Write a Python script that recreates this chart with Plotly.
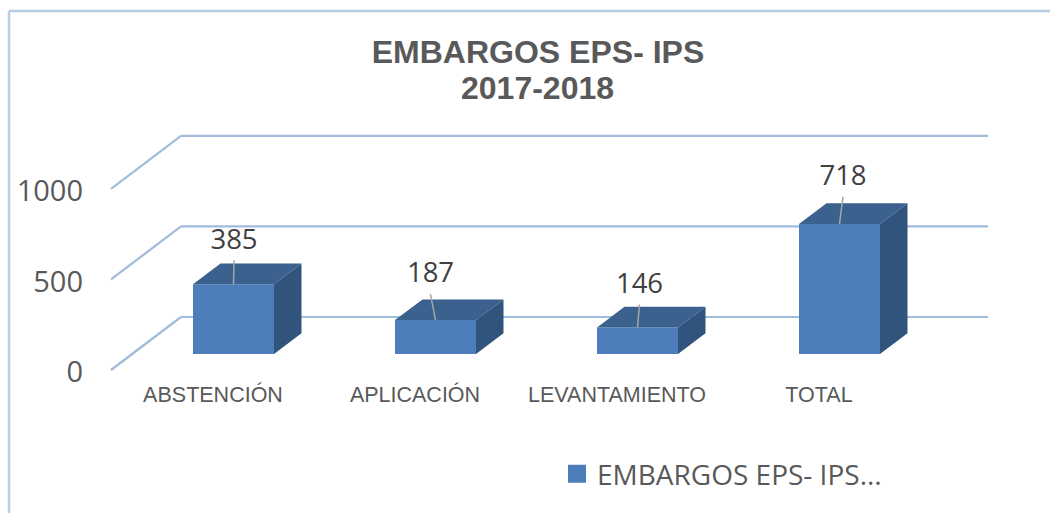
import plotly.graph_objects as go

# ---- data ----
categories = ["ABSTENCIÓN", "APLICACIÓN", "LEVANTAMIENTO", "TOTAL"]
values = [385, 187, 146, 718]
y_ticks = [0, 500, 1000]
title_line1 = "EMBARGOS EPS- IPS"
title_line2 = "2017-2018"
series_name = "EMBARGOS EPS- IPS..."

# ---- geometry of the pseudo-3D projection (pixels) ----
W, H = 1050, 513
L, R, T, B = 88, 1000, 120, 380
STEP = 202.0          # px between categories
TICK0 = 213.0         # px of first category label
Y0 = 370.0            # px of value 0 on the front axis plane
PXV = 0.1812          # px per value unit
BAR_LEFT, BAR_W = -20.0, 81.0
FLOOR = 16.0          # bar floor above axis plane
DX, DY = 27.5, 20.7   # bar depth
WALL_X0, WALL_X1, WALL_DX, WALL_DY = 111.0, 988.0, 70.0, 53.0
# leader-line ends relative to top centre of bar
LEADER = [(0.5, -24), (-5, -26), (2, -23), (3.5, -27)]
LABEL_UP = 18.5

xu = lambda px: px / STEP
yu = lambda px: px / PXV
xr = [(L - TICK0) / STEP, (R - TICK0) / STEP]
yr = [(Y0 - B) / PXV, (Y0 - T) / PXV]
xpx = lambda p: (p - TICK0) / STEP   # pixel column -> category units
base = yu(FLOOR)

fig = go.Figure()

# front faces
fig.add_trace(go.Bar(
    x=list(range(len(categories))), y=values, base=[base] * len(values),
    width=xu(BAR_W), offset=xu(BAR_LEFT),
    marker=dict(color="#4D7EBB", line=dict(width=0)),
    showlegend=False, hoverinfo="x+y"))

# top and side faces
tx, ty, sx, sy = [], [], [], []
for i, v in enumerate(values):
    x0 = i + xu(BAR_LEFT)
    x1 = x0 + xu(BAR_W)
    top = base + v
    tx += [x0, x1, x1 + xu(DX), x0 + xu(DX), x0, None]
    ty += [top, top, top + yu(DY), top + yu(DY), top, None]
    sx += [x1, x1 + xu(DX), x1 + xu(DX), x1, x1, None]
    sy += [base, base + yu(DY), top + yu(DY), top, base, None]
for fx_, fy_, col in ((tx, ty, "#3B618F"), (sx, sy, "#31547D")):
    fig.add_trace(go.Scatter(x=fx_, y=fy_, mode="lines", fill="toself", fillcolor=col,
                             line=dict(width=0, color=col), showlegend=False, hoverinfo="skip"))

# leader lines and data labels
lx, ly, tlx, tly = [], [], [], []
for i, v in enumerate(values):
    cx = i + xu(BAR_LEFT + BAR_W / 2)
    top = base + v
    ex, ey = LEADER[i]
    lx += [cx, cx + xu(ex), None]
    ly += [top, top - yu(ey), None]
    tlx.append(cx + xu(ex))
    tly.append(top - yu(ey) + yu(LABEL_UP))
fig.add_trace(go.Scatter(x=lx, y=ly, mode="lines", line=dict(color="#A6A6A6", width=1.5),
                         showlegend=False, hoverinfo="skip"))
fig.add_trace(go.Scatter(x=tlx, y=tly, mode="text", text=[str(v) for v in values],
                         textposition="middle center",
                         textfont=dict(family="Open Sans", size=27.5, color="#404040"),
                         showlegend=False, hoverinfo="skip", cliponaxis=False))

# legend entry
fig.add_trace(go.Scatter(x=[None], y=[None], mode="markers", name=series_name,
                         marker=dict(symbol="square", size=16, color="#4D7EBB",
                                     line=dict(width=2, color="#4D7EBB"))))

# wall gridlines (under the bars)
shapes = []
GRID = dict(color="#A1BBDC", width=2.2)
for t in y_ticks:
    pts = [(xpx(WALL_X0), t), (xpx(WALL_X0 + WALL_DX), t + yu(WALL_DY)), (xpx(WALL_X1), t + yu(WALL_DY))]
    for a, b in zip(pts, pts[1:]):
        shapes.append(dict(type="line", layer="below", xref="x", yref="y",
                           x0=a[0], y0=a[1], x1=b[0], y1=b[1], line=GRID))

# outer frame of the chart
FRAME = dict(color="#B7CDE6", width=2.5)
pw, ph = R - L, B - T
fx = lambda p: (p - L) / pw
fy = lambda p: (B - p) / ph
shapes.append(dict(type="line", layer="below", xref="paper", yref="paper",
                   x0=fx(9), y0=fy(H), x1=fx(9), y1=fy(11), line=FRAME))
shapes.append(dict(type="line", layer="below", xref="paper", yref="paper",
                   x0=fx(9), y0=fy(11), x1=fx(W), y1=fy(11), line=FRAME))

fig.update_layout(
    width=W, height=H, margin=dict(l=L, r=W - R, t=T, b=H - B, pad=0),
    paper_bgcolor="white", plot_bgcolor="white", shapes=shapes,
    title=dict(text=title_line1, x=538 / W, xanchor="center", y=1 - 52 / H, yanchor="middle",
               xref="container", yref="container",
               font=dict(family="Liberation Sans", size=32, color="#595959", weight="bold")),
    annotations=[dict(text=title_line2, xref="paper", yref="paper", x=fx(537), y=fy(88),
                      xanchor="center", yanchor="middle", showarrow=False,
                      font=dict(family="Liberation Sans", size=32, color="#595959", weight="bold"))],
    xaxis=dict(range=xr, tickmode="array", tickvals=list(range(len(categories))), ticktext=categories,
               showgrid=False, zeroline=False, showline=False, ticks="", ticklabelstandoff=-1,
               tickfont=dict(family="Liberation Sans", size=21.5, color="#595959")),
    yaxis=dict(range=yr, tickmode="array", tickvals=y_ticks, showgrid=False, zeroline=False,
               showline=False, ticks="", ticklabelstandoff=4, ticklabelshift=2,
               tickfont=dict(family="Open Sans", size=29, color="#595959")),
    legend=dict(x=fx(557), y=fy(449), xanchor="left", yanchor="top", bgcolor="rgba(0,0,0,0)",
                font=dict(family="Open Sans", size=28, color="#595959"), itemwidth=30),
    showlegend=True,
)
fig.write_html("out.html", config=dict(displayModeBar=False),
               post_script="document.body.style.margin='0';document.body.style.overflow='hidden';")
